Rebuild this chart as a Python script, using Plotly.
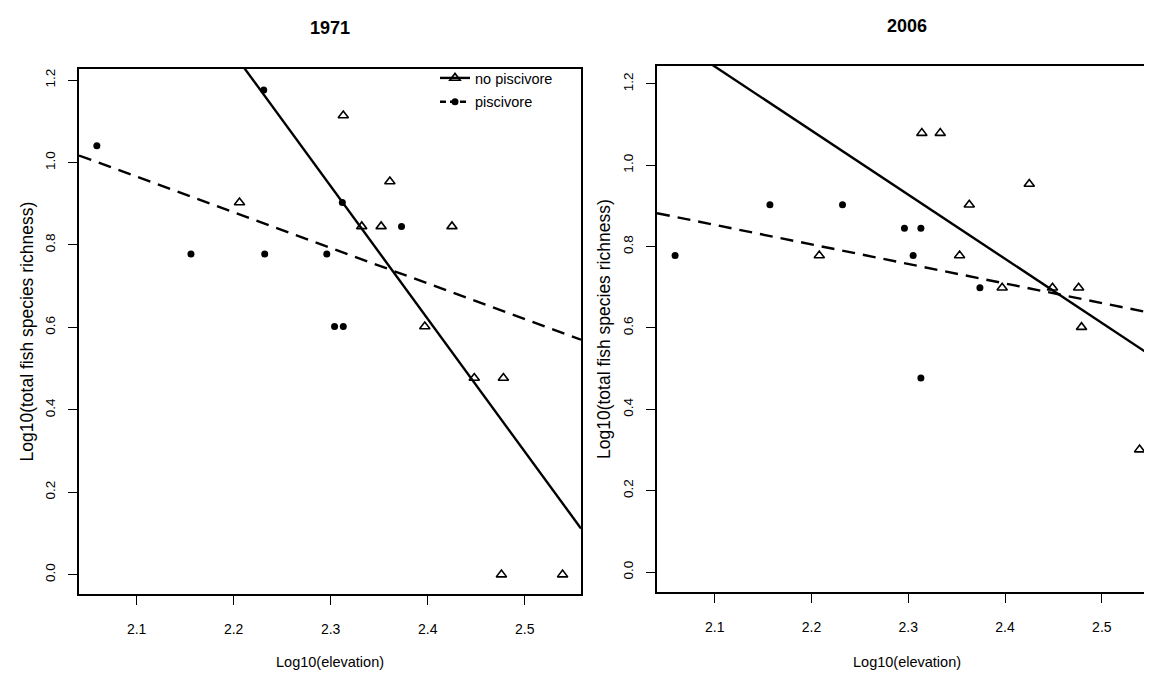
import numpy as np
import plotly.graph_objects as go

# ---- data (log10 elevation, log10 total fish species richness) ----
x71_nopisc = [2.313, 2.361, 2.206, 2.332, 2.352, 2.425, 2.397, 2.448, 2.478, 2.476, 2.539]
y71_nopisc = [1.114, 0.954, 0.903, 0.845, 0.845, 0.845, 0.602, 0.477, 0.477, 0.000, 0.000]
x71_pisc = [2.059, 2.231, 2.312, 2.373, 2.156, 2.232, 2.296, 2.304, 2.313]
y71_pisc = [1.041, 1.176, 0.903, 0.845, 0.778, 0.778, 0.778, 0.602, 0.602]

x06_nopisc = [2.314, 2.333, 2.425, 2.363, 2.208, 2.353, 2.397, 2.449, 2.476, 2.479, 2.539]
y06_nopisc = [1.079, 1.079, 0.954, 0.903, 0.778, 0.778, 0.699, 0.699, 0.699, 0.602, 0.301]
x06_pisc = [2.059, 2.157, 2.232, 2.296, 2.313, 2.305, 2.374, 2.313]
y06_pisc = [0.778, 0.903, 0.903, 0.845, 0.845, 0.778, 0.699, 0.477]

panel_titles = ["1971", "2006"]
series_names = ["no piscivore", "piscivore"]
x_ticks = [2.1, 2.2, 2.3, 2.4, 2.5]
x_tick_labels = ["2.1", "2.2", "2.3", "2.4", "2.5"]
y_ticks = [0.0, 0.2, 0.4, 0.6, 0.8, 1.0, 1.2]
y_tick_labels = ["0.0", "0.2", "0.4", "0.6", "0.8", "1.0", "1.2"]

X_RANGE = [[2.0406, 2.558], [2.0403, 2.557]]
Y_RANGE = [[-0.047, 1.227], [-0.049, 1.244]]

W, H = 1152, 674
FONT = "Liberation Sans, Arial, sans-serif"

# panel boxes in pixels: (left, right, top, bottom)
boxes = [(71, 573, 61, 586), (649, 1149, 58, 584)]
title_y = [20, 18]

fig = go.Figure()

panels = [
    (x71_nopisc, y71_nopisc, x71_pisc, y71_pisc),
    (x06_nopisc, y06_nopisc, x06_pisc, y06_pisc),
]

for i, (xn, yn, xp, yp) in enumerate(panels):
    xa = "x" if i == 0 else "x2"
    ya = "y" if i == 0 else "y2"
    xr = X_RANGE[i]
    # regression lines (fitted from the data, drawn across the panel)
    for xs, ys, dash in [(xn, yn, "solid"), (xp, yp, "13px,8px")]:
        b, a = np.polyfit(np.array(xs), np.array(ys), 1)
        lx = np.array(xr)
        fig.add_trace(go.Scatter(
            x=lx, y=a + b * lx, mode="lines", xaxis=xa, yaxis=ya,
            line=dict(color="black", width=2.4, dash=dash),
            showlegend=False, hoverinfo="skip"))
    fig.add_trace(go.Scatter(
        x=xn, y=yn, mode="markers", xaxis=xa, yaxis=ya, showlegend=False,
        marker=dict(symbol="triangle-up-open", size=9, color="black",
                    line=dict(width=1.6, color="black"))))
    fig.add_trace(go.Scatter(
        x=xp, y=yp, mode="markers", xaxis=xa, yaxis=ya, showlegend=False,
        marker=dict(symbol="circle", size=7, color="black")))

# legend entries
fig.add_trace(go.Scatter(
    x=[None], y=[None], mode="lines+markers", name=series_names[0],
    legendgroup="a",
    line=dict(color="black", width=2.4),
    marker=dict(symbol="triangle-up-open", size=9, color="black",
                line=dict(width=1.6, color="black"))))
fig.add_trace(go.Scatter(
    x=[None], y=[None], mode="lines+markers", name=series_names[1],
    legendgroup="b",
    line=dict(color="black", width=2.4, dash="6px,4px"),
    marker=dict(symbol="circle", size=7, color="black")))

axis_common = dict(
    showgrid=False, zeroline=False, showline=True, mirror=True,
    linecolor="black", linewidth=1.6, ticks="outside", ticklen=9,
    tickwidth=1.4, tickcolor="black", automargin=False,
)

layout_axes = {}
for i, (l, r, t, b) in enumerate(boxes):
    sfx = "" if i == 0 else "2"
    layout_axes["xaxis" + sfx] = dict(
        axis_common, domain=[l / W, r / W], range=X_RANGE[i],
        tickmode="array", tickvals=x_ticks, ticktext=x_tick_labels,
        anchor="y" + sfx, ticklabelstandoff=12,
        tickfont=dict(family=FONT, size=14, color="black"))
    layout_axes["yaxis" + sfx] = dict(
        axis_common, domain=[1 - b / H, 1 - t / H], range=Y_RANGE[i],
        tickmode="array", tickvals=y_ticks, ticktext=y_tick_labels,
        anchor="x" + sfx, tickangle=-90, ticklabelstandoff=8,
        tickfont=dict(family=FONT, size=13.5, color="black"))

annotations = []
for i, (l, r, t, b) in enumerate(boxes):
    cx = (l + r) / 2
    cy = (t + b) / 2
    annotations.append(dict(
        text="<b>%s</b>" % panel_titles[i], x=cx / W, y=1 - title_y[i] / H,
        xref="paper", yref="paper", showarrow=False, xanchor="center",
        yanchor="middle", font=dict(family=FONT, size=18, color="black")))
    annotations.append(dict(
        text="Log10(elevation)", x=cx / W, y=1 - 654 / H,
        xref="paper", yref="paper", showarrow=False, xanchor="center",
        yanchor="middle", font=dict(family=FONT, size=14.5, color="black")))
    annotations.append(dict(
        text="Log10(total fish species richness)", x=(l - 53) / W, y=1 - cy / H,
        xref="paper", yref="paper", showarrow=False, xanchor="center",
        yanchor="middle", textangle=-90,
        font=dict(family=FONT, size=17.5, color="black")))

fig.update_layout(
    width=W, height=H, template="none",
    margin=dict(l=0, r=0, t=0, b=0),
    paper_bgcolor="white", plot_bgcolor="white",
    annotations=annotations,
    legend=dict(x=427 / W, y=1 - 54 / H, xanchor="left", yanchor="top",
                bgcolor="rgba(0,0,0,0)", borderwidth=0,
                font=dict(family=FONT, size=14.5, color="black"),
                itemwidth=30, tracegroupgap=2),
    **layout_axes,
)

fig.write_html("out.html")
